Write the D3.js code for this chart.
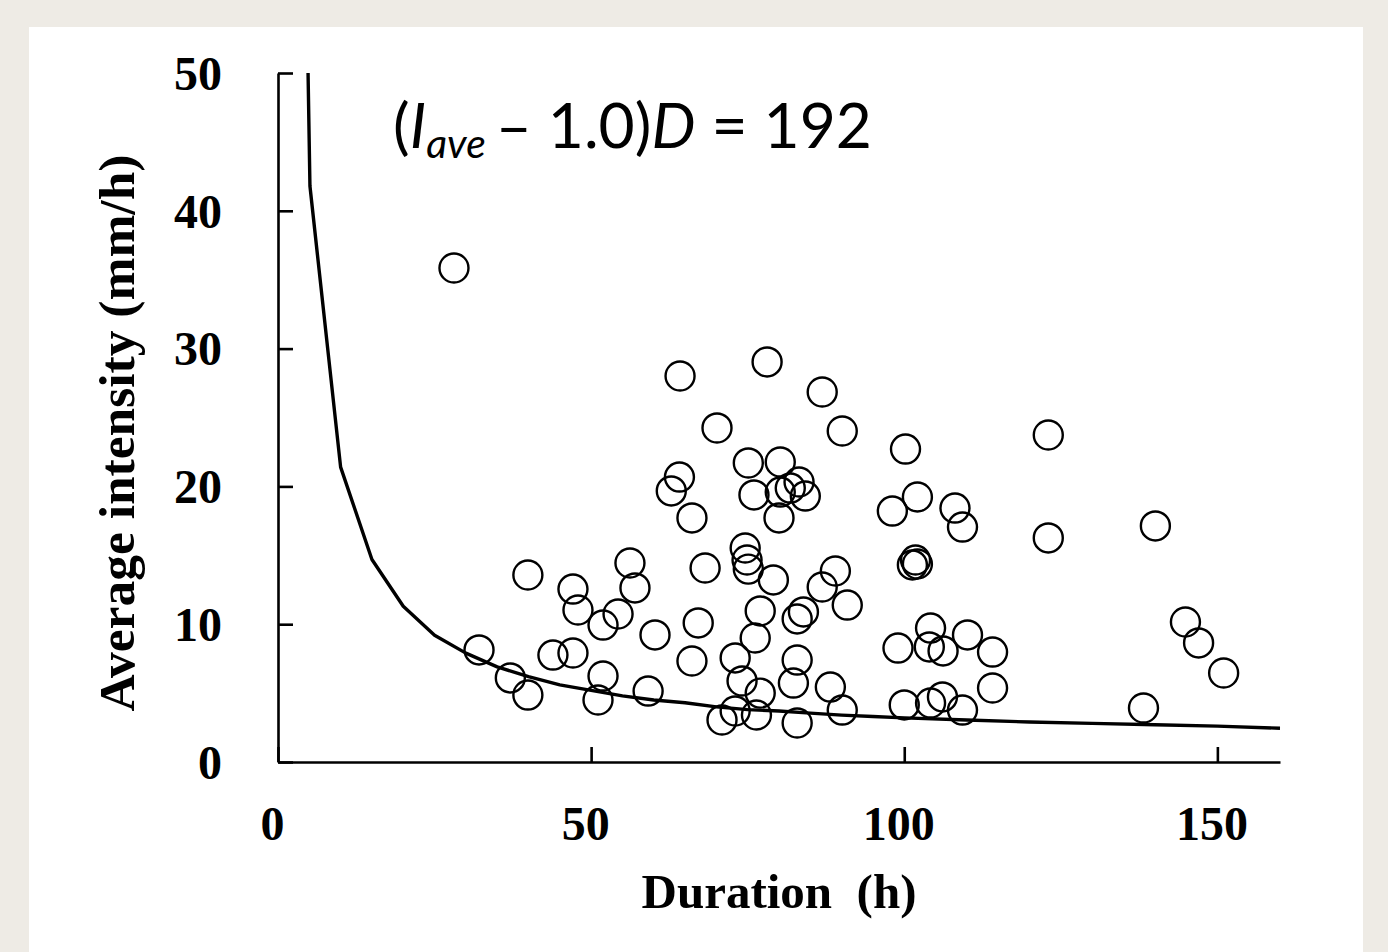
<!DOCTYPE html>
<html>
<head>
<meta charset="utf-8">
<script src="https://cdn.jsdelivr.net/npm/d3@7"></script>
<style>
  html, body { margin: 0; padding: 0; background: #eeebe5; }
  svg { display: block; }
</style>
</head>
<body>
<div id="chart"></div>
<script>
// observed events: duration (h) and average intensity (mm/h)
var durations = [28.1, 32.1, 37.1, 39.9, 39.9, 43.9, 47.1, 47.1, 47.9, 51.1,
  51.9, 51.9, 54.3, 56.2, 57.0, 59.1, 60.2, 62.8, 64.1, 64.2,
  66.1, 66.1, 67.1, 68.2, 70.1, 70.9, 73.0, 73.0, 74.6, 74.9,
  75.1, 74.1, 75.1, 76.0, 76.2, 76.4, 77.0, 77.0, 78.1, 79.1,
  80.2, 80.2, 80.0, 81.8, 82.3, 83.2, 82.9, 82.9, 82.9, 83.9,
  84.2, 86.9, 86.9, 88.2, 89.0, 90.1, 90.1, 90.9, 98.1, 99.0,
  100.0, 100.2, 101.3, 101.8, 102.1, 102.1, 104.2, 104.0, 104.2, 106.2,
  106.1, 108.1, 109.3, 109.3, 110.1, 114.1, 114.1, 123.0, 123.0, 138.2,
  140.1, 144.9, 147.0, 151.0];

var intensities = [35.85, 8.13, 6.1, 4.86, 13.57, 7.76, 7.91, 12.55, 11.03, 4.5,
  6.24, 9.94, 10.74, 14.44, 12.63, 5.15, 9.22, 19.67, 20.68, 28.01,
  17.71, 7.33, 10.09, 14.08, 24.24, 3.05, 3.7, 7.55, 15.53, 14.66,
  14.0, 5.88, 21.7, 19.38, 9.0, 3.41, 10.96, 5.0, 29.03, 13.21,
  21.77, 19.59, 17.71, 19.88, 5.73, 20.32, 2.83, 7.4, 10.38, 10.89,
  19.3, 26.85, 12.7, 5.44, 13.86, 24.02, 3.77, 11.39, 18.21, 8.27,
  4.14, 22.71, 14.3, 14.66, 14.37, 19.23, 4.28, 8.35, 9.72, 8.06,
  4.72, 18.43, 17.05, 3.77, 9.22, 7.98, 5.37, 23.73, 16.26, 3.92,
  17.13, 10.16, 8.64, 6.46];

// threshold line
var curveDuration = [4.8, 5.1, 10, 15, 20, 25, 30, 35, 40, 45, 50, 55, 60, 65, 70,
  75, 80, 85, 90, 95, 100, 110, 120, 130, 140, 150, 160];
var curveIntensity = [50, 41.8, 21.4, 14.7, 11.3, 9.2, 7.9, 6.9, 6.2, 5.6, 5.2, 4.8, 4.5, 4.3, 4.0,
  3.8, 3.7, 3.55, 3.4, 3.3, 3.2, 3.05, 2.9, 2.8, 2.7, 2.6, 2.45];

var xTicks = [0, 50, 100, 150];
var yTicks = [0, 10, 20, 30, 40, 50];

var width = 1388, height = 952;
var plot = {left: 278, right: 1280, top: 73, bottom: 762};

var svg = d3.select("#chart").append("svg")
    .attr("width", width)
    .attr("height", height);

// white panel on the beige page
svg.append("rect")
    .attr("x", 29).attr("y", 27)
    .attr("width", 1334).attr("height", height - 27)
    .attr("fill", "#ffffff");

var x = d3.scaleLinear().domain([0, 160]).range([plot.left, plot.right]);
var y = d3.scaleLinear().domain([0, 50]).range([plot.bottom, plot.top]);

var tickFont = "'Liberation Serif', 'Times New Roman', serif";

// axes
var xAxis = svg.append("g")
    .attr("transform", "translate(0," + plot.bottom + ")")
    .call(d3.axisBottom(x).tickValues(xTicks).tickSizeInner(-15).tickSizeOuter(0));

var yAxis = svg.append("g")
    .attr("transform", "translate(" + plot.left + ",0)")
    .call(d3.axisLeft(y).tickValues(yTicks).tickSizeInner(-15).tickSizeOuter(0));

[xAxis, yAxis].forEach(function(g) {
  g.select(".domain").attr("stroke", "#000").attr("stroke-width", 2.6);
  g.selectAll(".tick line").attr("stroke", "#000").attr("stroke-width", 2.6);
  g.selectAll(".tick text")
      .attr("fill", "#000")
      .style("font-family", tickFont)
      .style("font-weight", "bold")
      .style("font-size", "48px");
});

xAxis.selectAll(".tick text").attr("y", 44).attr("dx", -6).attr("dy", "0.71em");
yAxis.selectAll(".tick text").attr("x", -56).attr("dy", "0.34em");

// axis titles
svg.append("text")
    .attr("x", (plot.left + plot.right) / 2)
    .attr("y", 908)
    .attr("text-anchor", "middle")
    .style("font-family", tickFont)
    .style("font-weight", "bold")
    .style("font-size", "49px")
    .style("white-space", "pre")
    .text("Duration  (h)");

svg.append("text")
    .attr("transform", "translate(134,433) rotate(-90)")
    .attr("text-anchor", "middle")
    .style("font-family", tickFont)
    .style("font-weight", "bold")
    .style("font-size", "51.5px")
    .text("Average intensity (mm/h)");

// threshold curve
var line = d3.line()
    .x(function(d, i) { return x(curveDuration[i]); })
    .y(function(d) { return y(d); });

svg.append("path")
    .datum(curveIntensity)
    .attr("d", line)
    .attr("fill", "none")
    .attr("stroke", "#000")
    .attr("stroke-width", 3.4)
    .attr("stroke-linejoin", "round");

// events
svg.append("g")
  .selectAll("circle")
  .data(durations)
  .enter().append("circle")
    .attr("cx", function(d) { return x(d); })
    .attr("cy", function(d, i) { return y(intensities[i]); })
    .attr("r", 14.5)
    .attr("fill", "none")
    .attr("stroke", "#000")
    .attr("stroke-width", 2.4);

// equation annotation
var eq = svg.append("text")
    .attr("x", 393)
    .attr("y", 148)
    .style("font-family", "Lato, 'Open Sans', sans-serif")
    .style("font-size", "58px")
    .attr("fill", "#000");

eq.append("tspan").text("(");
eq.append("tspan").style("font-style", "italic").text("I");
eq.append("tspan").style("font-style", "italic").style("font-size", "38px").attr("dy", 10).text("ave");
eq.append("tspan").attr("dy", -10).attr("dx", 10).text("\u2013 1.0)");
eq.append("tspan").style("font-style", "italic").text("D");
eq.append("tspan").text(" = 192");

// fit the equation to its width in the figure
var eqWidth = eq.node().getComputedTextLength();
var scale = 469 / eqWidth;
eq.style("font-size", (58 * scale) + "px");
eq.selectAll("tspan").filter(function() { return this.style.fontSize; })
    .style("font-size", (38 * scale) + "px");
</script>
</body>
</html>
